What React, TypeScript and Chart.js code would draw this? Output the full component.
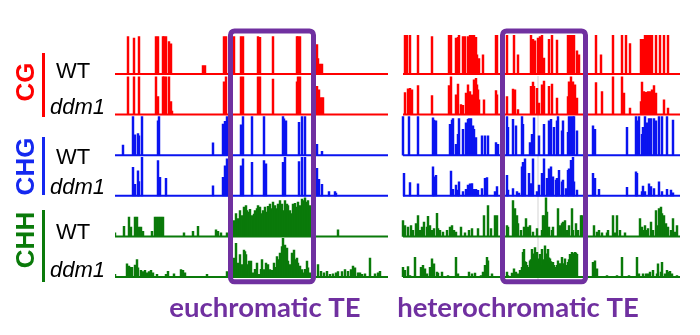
import React, { useEffect, useRef } from 'react';
import { Chart, registerables } from 'chart.js';

Chart.register(...registerables);

// ---- data: [position, methylation %] ; region A = left window, region B = right window
const cgWtA = [[13,97],[19,93],[24,97],[41,97],[43,97],[48,97],[49,97],[51,97],[54,84],[56,78],[88,22],[90,22],[109,97],[111,97],[119,97],[126,97],[128,97],[143,97],[145,95],[158,97],[182,97],[183,97],[185,97],[202,76],[203,40],[205,26],[207,26]];
const cgDdmA = [[13,98],[19,98],[24,98],[41,98],[43,47],[48,98],[49,98],[51,98],[54,98],[56,34],[57,9],[109,85],[111,98],[126,98],[128,98],[143,98],[145,98],[158,92],[182,85],[183,98],[185,98],[202,73],[204,64],[206,44],[208,44]];
const chgWtA = [[8,26],[18,100],[20,53],[23,56],[24,50],[27,100],[43,89],[44,100],[98,32],[108,81],[110,88],[112,100],[126,79],[128,100],[137,100],[149,100],[168,100],[169,94],[171,89],[184,85],[187,100],[190,100],[202,28],[207,10]];
const chgDdmA = [[18,74],[20,30],[23,65],[24,37],[27,100],[43,91],[45,48],[51,45],[98,26],[108,48],[110,78],[112,96],[126,78],[128,96],[137,87],[149,91],[151,83],[168,87],[170,100],[184,89],[187,100],[190,100],[202,71],[204,43],[207,30],[214,11],[220,11],[221,7]];
const chhWtA = [[0,9],[9,26],[14,50],[16,24],[20,50],[22,50],[24,24],[26,24],[28,13],[37,13],[40,50],[42,50],[44,50],[46,50],[48,50],[69,9],[78,13],[83,26],[101,17],[103,13],[106,9],[112,9],
  [117,35],[119,41],[121,59],[123,46],[125,67],[127,54],[129,76],[130,72],[131,80],[132,67],[133,63],[135,70],[137,54],[139,58],[140,67],[142,72],[143,80],[145,76],[147,59],[148,67],[150,76],[152,63],[153,78],[155,84],[157,72],[158,89],[160,80],[162,72],[163,84],[165,93],[167,84],[168,67],[170,93],[172,84],[173,80],[175,67],[177,59],[178,84],[180,86],[182,76],[183,89],[185,80],[187,97],[188,93],[190,100],[192,89],[193,93],[195,80],
  [223,17]];
const chhDdmA = [[0,7],[12,34],[14,28],[16,25],[17,25],[20,31],[22,45],[23,24],[26,17],[28,14],[30,17],[32,11],[34,14],[36,17],[38,11],[42,7],[51,7],[53,15],[59,8],[66,19],[68,17],[70,11],[92,7],[112,14],
  [119,49],[121,87],[123,36],[125,58],[127,32],[129,70],[130,66],[131,58],[132,32],[133,15],[134,41],[136,41],[138,11],[140,20],[142,36],[144,7],[146,20],[147,45],[149,19],[151,36],[153,32],[155,19],[157,17],[159,36],[160,25],[162,53],[163,45],[165,62],[167,79],[168,100],[170,83],[172,75],[173,41],[175,32],[177,62],[179,70],[180,45],[182,49],[183,36],[185,28],[187,19],[189,11],[190,20],[192,41],[193,24],[195,11],
  [203,32],[206,15],[209,11],[212,15],[215,7],[218,8],[221,11],[223,14],[227,14],[230,19],[233,15],[236,19],[238,28],[240,24],[243,11],[245,11],[247,7],[250,8],[255,49],[260,8],[263,11],[265,15]];

const cgWtB = [[290,100],[292,100],[295,100],[303,100],[317,97],[334,100],[336,100],[341,93],[343,95],[344,100],[348,97],[350,97],[353,97],[355,100],[357,100],[359,100],[361,95],[362,50],[364,40],[368,50],[381,100],[382,100],[392,100],[399,100],[403,50],[416,100],[418,90],[420,86],[423,93],[425,97],[427,100],[429,41],[434,90],[437,100],[442,88],[453,100],[454,100],[456,100],[458,100],[459,100],[462,60],[464,50],[481,100],[486,50],[498,100],[507,100],[511,100],[515,79],[526,90],[528,90],[530,100],[532,100],[533,100],[535,100],[537,100],[541,100],[545,100],[549,100],[553,100]];
const cgDdmB = [[290,57],[293,67],[295,68],[297,64],[303,75],[317,49],[334,75],[336,98],[341,51],[343,79],[346,26],[348,24],[351,56],[353,77],[355,60],[357,51],[359,90],[361,94],[362,77],[363,64],[364,38],[369,38],[381,62],[382,51],[392,47],[398,66],[400,64],[403,13],[416,73],[418,84],[419,73],[422,68],[424,30],[427,77],[429,87],[434,73],[437,79],[442,43],[453,47],[454,85],[456,98],[458,85],[460,77],[462,43],[481,83],[487,60],[498,98],[507,98],[509,56],[515,17],[526,34],[527,84],[529,60],[531,58],[533,60],[535,60],[537,64],[539,75],[541,56],[549,38],[553,17]];
const chgWtB = [[288,100],[294,100],[303,100],[318,97],[319,91],[321,89],[335,80],[337,91],[338,95],[341,28],[343,54],[344,95],[348,67],[351,84],[353,93],[354,95],[356,95],[358,76],[359,67],[361,46],[367,50],[370,50],[373,50],[381,33],[383,28],[392,100],[393,72],[398,93],[401,76],[407,100],[408,80],[415,33],[417,54],[419,97],[424,50],[429,80],[434,89],[436,93],[439,72],[442,89],[443,100],[447,63],[448,89],[453,59],[454,100],[456,100],[458,100],[459,100],[462,63],[478,76],[480,67],[512,72],[521,100],[522,89],[524,100],[527,54],[528,72],[530,100],[532,84],[534,95],[536,95],[539,95],[541,89],[544,100],[547,100],[552,100],[558,91]];
const chgDdmB = [[289,58],[295,34],[303,31],[318,75],[319,49],[321,53],[336,64],[338,17],[341,28],[343,15],[344,36],[348,11],[351,17],[353,28],[355,31],[357,32],[359,17],[361,17],[363,14],[367,19],[370,45],[372,47],[380,11],[382,24],[392,53],[393,15],[398,19],[402,11],[404,7],[407,75],[408,87],[410,96],[414,58],[416,32],[418,96],[422,11],[424,28],[427,58],[429,96],[432,45],[434,70],[436,75],[438,49],[441,41],[442,45],[444,66],[447,36],[448,41],[451,19],[453,66],[454,70],[456,92],[458,100],[459,36],[462,15],[478,58],[480,45],[484,17],[512,22],[521,62],[522,58],[527,11],[528,25],[530,11],[534,31],[536,24],[539,19],[544,36],[547,11],[552,17],[556,15],[558,8]];
const chhWtB = [[288,41],[290,28],[293,24],[296,28],[298,16],[301,33],[303,54],[305,16],[307,24],[309,37],[312,24],[313,52],[315,28],[317,16],[319,20],[322,60],[323,20],[325,16],[328,11],[332,16],[335,24],[337,28],[339,16],[341,11],[346,24],[350,9],[354,16],[357,20],[363,20],[369,54],[373,80],[376,20],[380,54],[382,54],[392,28],[393,24],[398,93],[400,72],[402,54],[403,33],[406,16],[409,24],[411,46],[413,24],[415,28],[418,11],[422,20],[427,16],[428,54],[429,54],[431,100],[432,63],[434,24],[437,16],[438,24],[443,72],[445,28],[447,33],[448,37],[450,41],[452,16],[454,28],[457,72],[458,16],[461,33],[463,16],[466,54],[467,54],[479,28],[482,11],[484,16],[487,9],[492,9],[493,16],[498,54],[500,9],[502,54],[505,16],[510,9],[525,46],[527,24],[528,16],[530,28],[532,16],[533,20],[536,37],[538,16],[541,67],[542,28],[544,72],[546,76],[547,59],[549,54],[551,33],[553,24],[556,16],[558,46],[560,11],[562,28]];
const chhDdmB = [[288,25],[290,17],[293,27],[295,4],[300,51],[306,25],[308,30],[310,21],[312,8],[315,25],[317,47],[319,34],[322,13],[323,10],[327,13],[333,4],[341,51],[343,8],[354,13],[357,8],[360,10],[366,4],[368,13],[370,30],[372,51],[373,42],[377,8],[392,13],[393,4],[397,10],[399,21],[401,13],[403,8],
  [405,17],[406,15],[407,25],[408,64],[409,72],[410,40],[411,38],[412,30],[413,21],[414,25],[415,42],[416,45],[417,72],[418,51],[419,60],[420,76],[421,55],[422,64],[423,47],[424,40],[425,59],[426,50],[427,72],[428,30],[429,45],[430,81],[431,60],[432,55],[433,72],[434,50],[435,47],[436,40],[437,34],[438,38],[439,30],[440,21],[441,25],[442,30],[443,42],[444,35],[445,30],[446,35],[447,51],[448,25],[449,35],[450,47],[451,30],[452,30],[453,38],[454,45],[455,59],[456,55],[457,64],[458,61],[459,60],[460,64],[461,62],[462,59],
  [478,38],[480,42],[482,21],[492,4],[502,4],[507,51],[514,4],[522,51],[524,8],[528,8],[531,8],[533,8],[535,13],[538,17],[542,8],[543,34],[546,13],[547,38],[550,8],[552,17],[553,13],[555,15],[557,8],[562,4]];

const contexts = ['CG', 'CHG', 'CHH'];
const genotypes = ['WT', 'ddm1'];
const regionA = [0, 273];
const regionB = [288, 565];
const windows = [
  { label: 'euchromatic TE', from: 115.5, to: 198.5 },
  { label: 'heterochromatic TE', from: 387.5, to: 470.5 },
];
const grayMark = 423;

const tracks = [
  { ctx: 'CG', geno: 'WT', color: '#ff0000', a: cgWtA, b: cgWtB },
  { ctx: 'CG', geno: 'ddm1', color: '#ff0000', a: cgDdmA, b: cgDdmB },
  { ctx: 'CHG', geno: 'WT', color: '#0a14f0', a: chgWtA, b: chgWtB },
  { ctx: 'CHG', geno: 'ddm1', color: '#0a14f0', a: chgDdmA, b: chgDdmB },
  { ctx: 'CHH', geno: 'WT', color: '#0a7a0a', a: chhWtA, b: chhWtB },
  { ctx: 'CHH', geno: 'ddm1', color: '#0a7a0a', a: chhDdmA, b: chhDdmB },
];

const ctxColors: Record<string, string> = { CG: '#ff0000', CHG: '#1428f0', CHH: '#0a7a0a' };
const PURPLE = '#7030a0';

function buildDatasets() {
  const n = tracks.length;
  const ds: any[] = [];
  tracks.forEach((t, i) => {
    const base = n - 1 - i;
    const pts = [...t.a, ...t.b].map(([x, v]) => ({ x, y: [base, base + (v / 100) * 0.95] }));
    ds.push({
      type: 'bar',
      label: t.ctx + ' ' + t.geno,
      data: pts,
      backgroundColor: t.color,
      borderWidth: 0,
      barThickness: 1.8,
      grouped: false,
      order: 2,
    });
    ds.push({
      type: 'line',
      label: t.ctx + ' ' + t.geno + ' baseline',
      data: [
        { x: regionA[0], y: base },
        { x: regionA[1], y: base },
        { x: (regionA[1] + regionB[0]) / 2, y: null },
        { x: regionB[0], y: base },
        { x: regionB[1], y: base },
      ],
      borderColor: t.color,
      borderWidth: 2,
      pointRadius: 0,
      spanGaps: false,
      order: 1,
      clip: false,
    });
  });
  return ds;
}

const decorPlugin = {
  id: 'decor',
  beforeDatasetsDraw(chart: any) {
    const { ctx, scales } = chart;
    const x = scales.x.getPixelForValue(grayMark);
    ctx.save();
    ctx.strokeStyle = '#e2e2e2';
    ctx.lineWidth = 1.5;
    ctx.beginPath();
    ctx.moveTo(x, scales.y.getPixelForValue(4.95));
    ctx.lineTo(x, scales.y.getPixelForValue(-0.1));
    ctx.stroke();
    ctx.restore();
  },
  afterDatasetsDraw(chart: any) {
    const { ctx, scales } = chart;
    const top = scales.y.getPixelForValue(6.06);
    const bottom = scales.y.getPixelForValue(-0.12);
    ctx.save();
    ctx.strokeStyle = PURPLE;
    ctx.lineWidth = 5;
    windows.forEach((w) => {
      const x1 = scales.x.getPixelForValue(w.from);
      const x2 = scales.x.getPixelForValue(w.to);
      ctx.beginPath();
      (ctx as any).roundRect(x1, top, x2 - x1, bottom - top, 4);
      ctx.stroke();
    });
    ctx.restore();
  },
  afterDraw(chart: any) {
    const { ctx } = chart;
    ctx.save();
    const groups = [
      { name: 'CG', cy: 82, y1: 53, y2: 117 },
      { name: 'CHG', cy: 166.5, y1: 137, y2: 195 },
      { name: 'CHH', cy: 240, y1: 210, y2: 282 },
    ];
    groups.forEach((g) => {
      ctx.save();
      ctx.fillStyle = ctxColors[g.name];
      ctx.translate(34, g.cy);
      ctx.rotate(-Math.PI / 2);
      ctx.font = 'bold 26px "Liberation Sans", Arial, sans-serif';
      ctx.textAlign = 'center';
      ctx.textBaseline = 'alphabetic';
      ctx.fillText(g.name, 0, 0);
      ctx.restore();
      ctx.fillStyle = ctxColors[g.name];
      ctx.fillRect(42, g.y1, 3, g.y2 - g.y1);
    });
    const wtY = [78, 164, 239];
    const ddmY = [114, 194, 277];
    ctx.fillStyle = '#000';
    ctx.textAlign = 'left';
    ctx.textBaseline = 'alphabetic';
    wtY.forEach((y) => {
      ctx.font = '22px "Liberation Sans", Arial, sans-serif';
      ctx.fillText(genotypes[0], 56, y);
    });
    ddmY.forEach((y) => {
      ctx.font = 'italic 22px "Liberation Sans", Arial, sans-serif';
      ctx.fillText(genotypes[1], 50, y);
    });
    ctx.fillStyle = PURPLE;
    ctx.font = 'bold 27.5px Lato, "Open Sans", sans-serif';
    ctx.textAlign = 'center';
    const labelX = [265, 518];
    windows.forEach((w, i) => ctx.fillText(w.label, labelX[i], 317));
    ctx.restore();
  },
};

export default function App() {
  const ref = useRef<HTMLCanvasElement>(null);
  useEffect(() => {
    if (!ref.current) return;
    const chart = new Chart(ref.current, {
      type: 'bar',
      data: { datasets: buildDatasets() },
      options: {
        responsive: false,
        animation: false,
        events: [],
        layout: { padding: { left: 115, right: 20, top: 33.4, bottom: 58 } },
        plugins: { legend: { display: false }, tooltip: { enabled: false }, title: { display: false } },
        scales: {
          x: { type: 'linear', min: 0, max: 565, offset: false, display: false },
          y: { type: 'linear', min: 0, max: 6, display: false },
        },
      },
      plugins: [decorPlugin],
    } as any);
    return () => chart.destroy();
  }, []);
  return (
    <div style={{ position: 'absolute', left: 0, top: 0, width: 700, height: 335, background: '#fff' }}>
      <canvas ref={ref} width={700} height={335} />
    </div>
  );
}
